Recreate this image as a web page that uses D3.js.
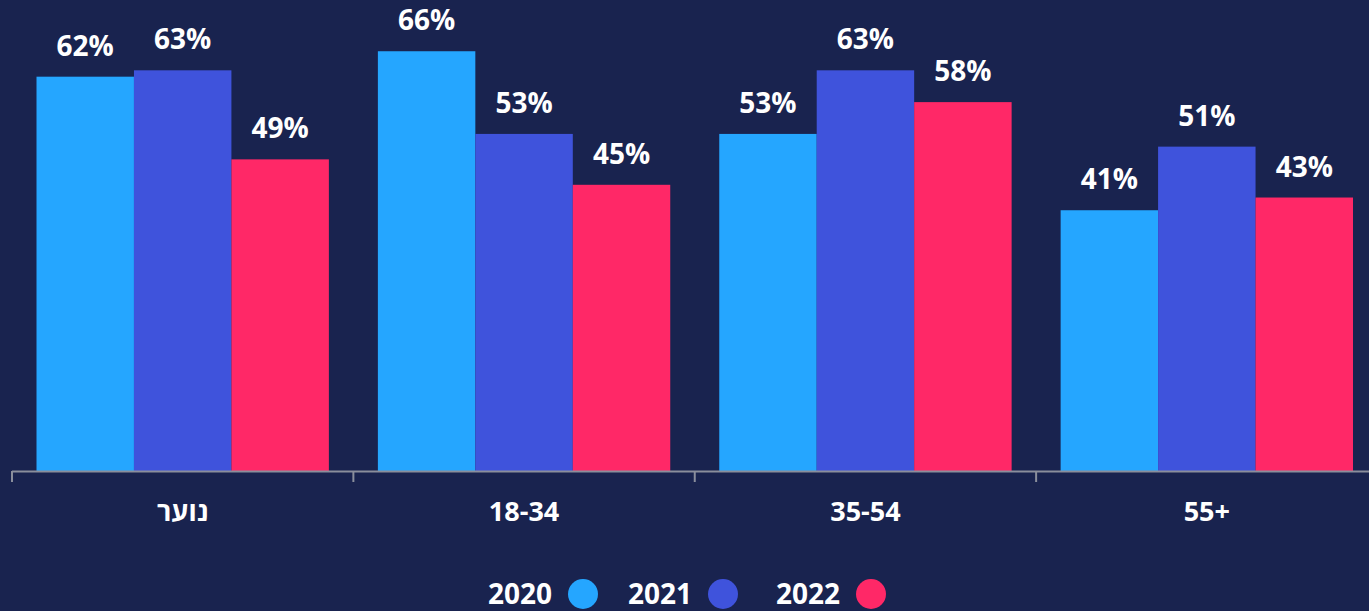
<!DOCTYPE html>
<html>
<head>
<meta charset="utf-8">
<script src="https://cdn.jsdelivr.net/npm/d3@7"></script>
<style>
  html, body { margin: 0; padding: 0; background: #19234f; }
  svg { display: block; }
  text { font-family: "Open Sans", "Noto Sans", sans-serif; font-weight: 700; fill: #ffffff; }
</style>
</head>
<body>
<svg id="chart" width="1369" height="611"></svg>
<script>
// Age groups and yearly shares (%)
const categories = ["נוער", "18-34", "35-54", "55+"];
const years = ["2020", "2021", "2022"];
const values2020 = [62, 66, 53, 41];
const values2021 = [63, 53, 63, 51];
const values2022 = [49, 45, 58, 43];
const colors = ["#25a6ff", "#3f53dc", "#ff2867"];

const seriesValues = [values2020, values2021, values2022];
const data = categories.map((c, i) => ({
  category: c,
  bars: years.map((y, j) => ({ year: y, value: seriesValues[j][i], color: colors[j] }))
}));

const svg = d3.select("#chart");
const W = 1369, H = 611;
svg.append("rect").attr("width", W).attr("height", H).attr("fill", "#19234f");

const baseline = 471;
const x0 = d3.scaleBand().domain(categories).range([12, 1377.5]).padding(0);
const x1 = d3.scaleBand().domain(years).range([24.5, x0.bandwidth() - 24.5]).padding(0);
const y = d3.scaleLinear().domain([0, 100]).range([baseline, baseline - 636]);

// Bars
const groups = svg.append("g").selectAll("g")
  .data(data).join("g")
  .attr("transform", d => `translate(${x0(d.category)},0)`);

groups.selectAll("rect")
  .data(d => d.bars).join("rect")
  .attr("x", d => x1(d.year))
  .attr("width", x1.bandwidth())
  .attr("y", d => y(d.value))
  .attr("height", d => y(0) - y(d.value))
  .attr("fill", d => d.color);

// Value labels
groups.selectAll("text")
  .data(d => d.bars).join("text")
  .attr("x", d => x1(d.year) + x1.bandwidth() / 2)
  .attr("y", d => y(d.value) - 21)
  .attr("text-anchor", "middle")
  .attr("font-size", 28)
  .text(d => d.value + "%");

// Category axis
const axis = svg.append("g");
axis.append("line")
  .attr("x1", 12).attr("x2", W)
  .attr("y1", baseline + 0.5).attr("y2", baseline + 0.5)
  .attr("stroke", "#8a8e9c").attr("stroke-width", 2);
axis.selectAll("line.tick")
  .data(categories).join("line")
  .attr("class", "tick")
  .attr("x1", d => x0(d)).attr("x2", d => x0(d))
  .attr("y1", baseline).attr("y2", baseline + 11)
  .attr("stroke", "#8a8e9c").attr("stroke-width", 2);
axis.selectAll("text")
  .data(categories).join("text")
  .attr("x", d => x0(d) + x0.bandwidth() / 2)
  .attr("y", 521)
  .attr("text-anchor", "middle")
  .attr("font-size", 27)
  .text(d => d);

// Legend
const legendX = [488, 628, 776];
const legend = svg.append("g").selectAll("g")
  .data(years).join("g")
  .attr("transform", (d, i) => `translate(${legendX[i]},0)`);
legend.append("text")
  .attr("x", 0).attr("y", 604)
  .attr("font-size", 28)
  .text(d => d);
legend.append("circle")
  .attr("cx", 95).attr("cy", 594).attr("r", 15)
  .attr("fill", (d, i) => colors[i]);
</script>
</body>
</html>
